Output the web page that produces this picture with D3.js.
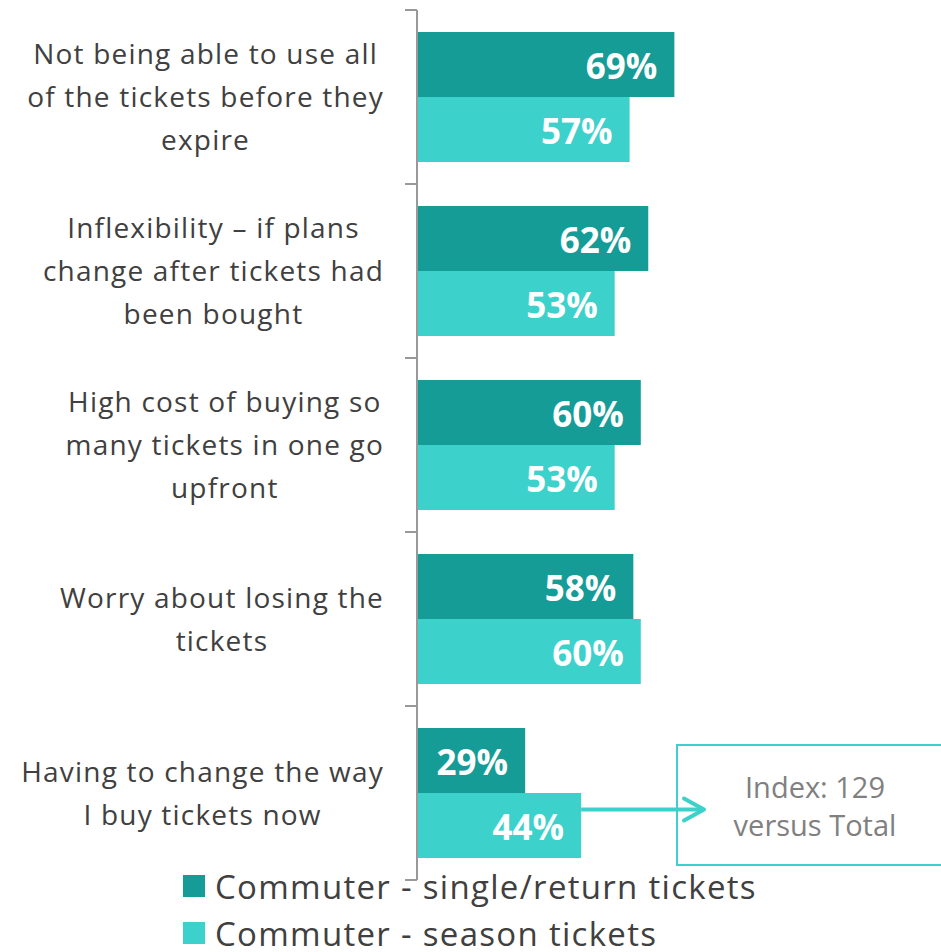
<!DOCTYPE html>
<html>
<head>
<meta charset="utf-8">
<script src="https://cdn.jsdelivr.net/npm/d3@7"></script>
<style>
  html, body { margin: 0; padding: 0; background: #fff; }
  svg { display: block; font-family: "Open Sans", "Noto Sans", sans-serif; }
</style>
</head>
<body>
<svg id="chart" width="941" height="952"></svg>
<script>
// Reasons given, one entry per category (lines as shown in the label)
const categories = [
  ["Not being able to use all", "of the tickets before they", "expire"],
  ["Inflexibility \u2013 if plans", "change after tickets had", "been bought"],
  ["High cost of buying so", "many tickets in one go", "upfront"],
  ["Worry about losing the", "tickets"],
  ["Having to change the way", "I buy tickets now"]
];
const seriesNames = ["Commuter - single/return tickets", "Commuter - season tickets"];
const singleReturn = [69, 62, 60, 58, 29];
const season = [57, 53, 53, 60, 44];
const seriesColors = ["#169C97", "#3DD1CC"];
const calloutLines = ["Index: 129", "versus Total"];

const svg = d3.select("#chart");
const axisX = 417;

const y = d3.scaleBand()
  .domain(d3.range(categories.length))
  .range([10, 880])
  .paddingInner(0.253)
  .paddingOuter(0.1265);

const ySub = d3.scaleBand()
  .domain([0, 1])
  .range([0, y.bandwidth()]);

const x = d3.scaleLinear().domain([0, 100]).range([axisX, axisX + 373]);

const rows = categories.map((c, i) => ({ i, lines: c, vals: [singleReturn[i], season[i]] }));

// bars
const groups = svg.append("g").selectAll("g").data(rows).join("g")
  .attr("transform", d => `translate(0,${y(d.i)})`);

groups.selectAll("rect").data(d => d.vals.map((v, s) => ({ v, s }))).join("rect")
  .attr("x", x(0))
  .attr("y", d => ySub(d.s))
  .attr("width", d => x(d.v) - x(0))
  .attr("height", ySub.bandwidth())
  .attr("fill", d => seriesColors[d.s]);

groups.selectAll("text.val").data(d => d.vals.map((v, s) => ({ v, s }))).join("text")
  .attr("class", "val")
  .attr("x", d => x(d.v) - 17)
  .attr("y", d => ySub(d.s) + ySub.bandwidth() / 2 + 2)
  .attr("dy", "0.36em")
  .attr("text-anchor", "end")
  .attr("fill", "#fff")
  .attr("font-weight", "bold")
  .attr("font-size", 35)
  .text(d => d.v + "%");

// category axis with ticks on the band boundaries
const axisG = svg.append("g");
axisG.append("line")
  .attr("x1", axisX).attr("x2", axisX)
  .attr("y1", y.range()[0]).attr("y2", y.range()[1])
  .attr("stroke", "#999").attr("stroke-width", 2);
const boundaries = d3.range(categories.length + 1).map(i => y.range()[0] + i * y.step());
axisG.selectAll("line.tick").data(boundaries).join("line")
  .attr("class", "tick")
  .attr("x1", axisX - 12).attr("x2", axisX)
  .attr("y1", d => d).attr("y2", d => d)
  .attr("stroke", "#999").attr("stroke-width", 2);

// category labels: block right-aligned, lines centred inside the block
const lineH = 43;
const labelRight = 384;
rows.forEach(r => {
  const cy = y(r.i) + y.bandwidth() / 2;
  const g = svg.append("g");
  const texts = r.lines.map((ln, k) => g.append("text")
    .attr("font-size", 28)
    .attr("letter-spacing", 1.2)
    .attr("fill", "#404040")
    .attr("text-anchor", "middle")
    .attr("y", cy + (k - (r.lines.length - 1) / 2) * lineH)
    .attr("dy", "0.36em")
    .text(ln));
  const w = d3.max(texts, t => t.node().getComputedTextLength());
  texts.forEach(t => t.attr("x", labelRight - w / 2));
});

// callout with arrow from the last season bar
const lastY = y(categories.length - 1) + ySub(1) + ySub.bandwidth() / 2 - 16;
const boxX = 677, boxY = 745, boxW = 270, boxH = 120;
svg.append("rect")
  .attr("x", boxX).attr("y", boxY).attr("width", boxW).attr("height", boxH)
  .attr("fill", "#fff").attr("stroke", seriesColors[1]).attr("stroke-width", 2);
const arrowEnd = 704;
svg.append("line")
  .attr("x1", x(season[4])).attr("x2", arrowEnd - 2)
  .attr("y1", lastY).attr("y2", lastY)
  .attr("stroke", seriesColors[1]).attr("stroke-width", 4);
svg.append("path")
  .attr("d", `M${arrowEnd - 20},${lastY - 11} L${arrowEnd},${lastY} L${arrowEnd - 20},${lastY + 11}`)
  .attr("fill", "none").attr("stroke", seriesColors[1]).attr("stroke-width", 4)
  .attr("stroke-linecap", "round").attr("stroke-linejoin", "round");
calloutLines.forEach((t, k) => {
  svg.append("text")
    .attr("x", 815).attr("y", 798 + k * 38)
    .attr("text-anchor", "middle")
    .attr("font-size", 29)
    .attr("fill", "#808080")
    .text(t);
});

// legend
const legend = svg.append("g").selectAll("g").data(seriesNames).join("g")
  .attr("transform", (d, i) => `translate(183,${875 + i * 47})`);
legend.append("rect").attr("width", 22).attr("height", 22)
  .attr("fill", (d, i) => seriesColors[i]);
legend.append("text")
  .attr("x", 32).attr("y", 12).attr("dy", "0.36em")
  .attr("font-size", 33).attr("letter-spacing", 1.3).attr("fill", "#404040")
  .text(d => d);
</script>
</body>
</html>
